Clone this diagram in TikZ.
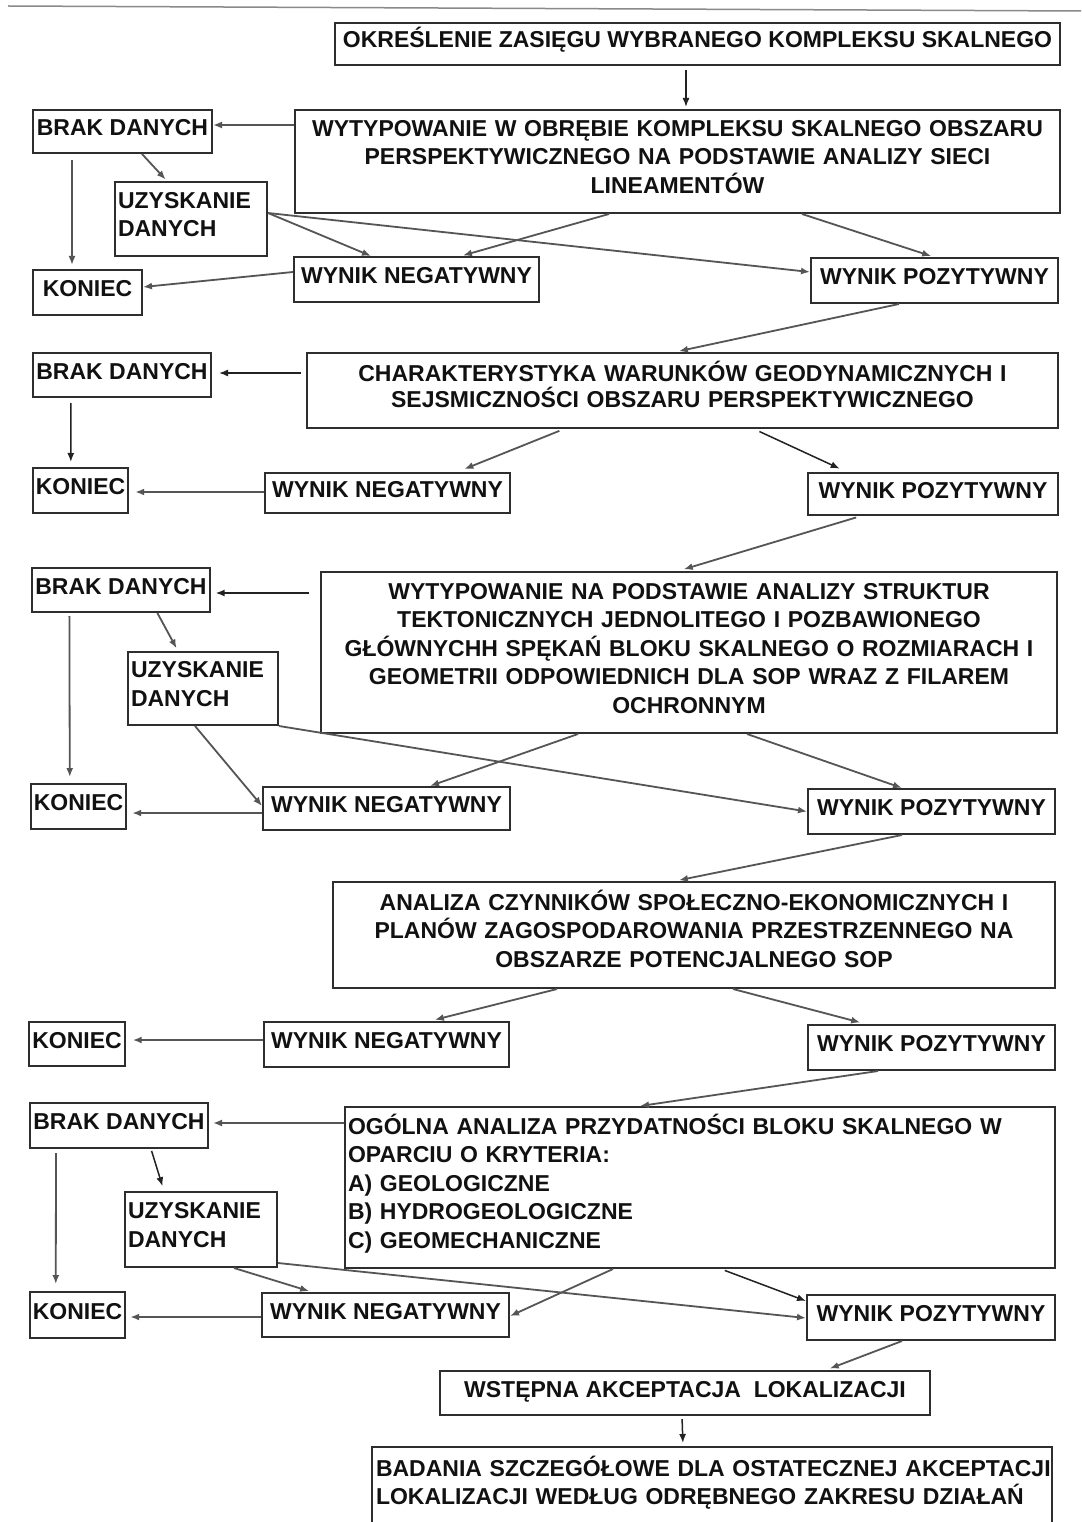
\documentclass[tikz,border=0pt]{standalone}
\usepackage{fontspec}
\setmainfont{Liberation Sans}
\usetikzlibrary{arrows.meta}
\definecolor{ink}{HTML}{111111}
\definecolor{frame}{HTML}{2E2E2E}
\definecolor{wire}{HTML}{555555}
\definecolor{wirek}{HTML}{222222}
\definecolor{rulegray}{HTML}{8A8A8A}
% struts that fix the vertical placement of the box texts
\newcommand\onestrut{\rule[-16pt]{0pt}{40pt}}
\newcommand\topstrut{\rule{0pt}{24pt}}
\newcommand\botstrut{\rule[-17pt]{0pt}{17pt}}

\begin{document}
\begin{tikzpicture}[x=1pt,y=-1pt,
  every node/.style={font=\fontsize{23}{28.5}\selectfont\bfseries, text=ink},
  box/.style={draw=frame, line width=2pt, inner xsep=3pt, inner ysep=0pt},
  cbox/.style={box, align=center},
  lbox/.style={box, align=left},
  arr/.style={draw=wire, line width=1.8pt, -{Latex[length=9pt,width=7pt]}},
  arrk/.style={arr, draw=wirek, line width=1.5pt},
]
\useasboundingbox (0,0) rectangle (1081,1522);
\fill[white] (0,0) rectangle (1081,1522);

% header rule
\draw[rulegray, line width=1.5pt] (8,6) -- (1081,11);

% ---------- stage 1 ----------
\node[box, minimum width=725pt, minimum height=42pt] (A) at (697.5,44)
  {OKREŚLENIE ZASIĘGU WYBRANEGO KOMPLEKSU SKALNEGO\onestrut};
\node[cbox, text width=759pt, minimum height=103pt] (B) at (677.5,161.5)
  {\topstrut WYTYPOWANIE W OBRĘBIE KOMPLEKSU SKALNEGO OBSZARU\\
   PERSPEKTYWICZNEGO NA PODSTAWIE ANALIZY SIECI\\
   LINEAMENTÓW\botstrut};
\node[box, minimum width=179pt, minimum height=43pt] (brakA) at (122.5,131.5) {BRAK DANYCH\onestrut};
\node[lbox, text width=146pt, minimum height=74pt] (uzA) at (191,219)
  {\topstrut UZYSKANIE\\ DANYCH\botstrut};
\node[box, minimum width=109pt, minimum height=45pt] (konA) at (87.5,292.5) {KONIEC\onestrut};
\node[box, minimum width=245pt, minimum height=45pt] (negA) at (416.5,279.5) {WYNIK NEGATYWNY\onestrut};
\node[box, minimum width=247pt, minimum height=45pt] (pozA) at (934.5,280.5) {WYNIK POZYTYWNY\onestrut};

% ---------- stage 2 ----------
\node[cbox, text width=745pt, minimum height=75pt, font=\fontsize{23}{26}\selectfont\bfseries] (C) at (682.5,390.5)
  {\topstrut CHARAKTERYSTYKA WARUNKÓW GEODYNAMICZNYCH I\\
   SEJSMICZNOŚCI OBSZARU PERSPEKTYWICZNEGO\botstrut};
\node[box, minimum width=178pt, minimum height=44pt] (brakB) at (122,375) {BRAK DANYCH\onestrut};
\node[box, minimum width=95pt, minimum height=45pt] (konB) at (80.5,490.5) {KONIEC\onestrut};
\node[box, minimum width=245pt, minimum height=40pt] (negB) at (387.5,493) {WYNIK NEGATYWNY\onestrut};
\node[box, minimum width=250pt, minimum height=42pt] (pozB) at (933,494) {WYNIK POZYTYWNY\onestrut};

% ---------- stage 3 ----------
\node[cbox, text width=730pt, minimum height=161pt] (D) at (689,652.5)
  {\topstrut WYTYPOWANIE NA PODSTAWIE ANALIZY STRUKTUR\\
   TEKTONICZNYCH JEDNOLITEGO I POZBAWIONEGO\\
   GŁÓWNYCHH SPĘKAŃ BLOKU SKALNEGO O ROZMIARACH I\\
   GEOMETRII ODPOWIEDNICH DLA SOP WRAZ Z FILAREM\\
   OCHRONNYM\botstrut};
\node[box, minimum width=176pt, minimum height=44pt] (brakC) at (121,590) {BRAK DANYCH\onestrut};
\node[lbox, text width=144pt, minimum height=73pt] (uzC) at (203,688.5)
  {\topstrut UZYSKANIE\\ DANYCH\botstrut};
\node[box, minimum width=95pt, minimum height=45pt] (konC) at (78.5,806.5) {KONIEC\onestrut};
\node[box, minimum width=247pt, minimum height=43pt] (negC) at (386.5,808.5) {WYNIK NEGATYWNY\onestrut};
\node[box, minimum width=247pt, minimum height=45pt] (pozC) at (931.5,811.5) {WYNIK POZYTYWNY\onestrut};

% ---------- stage 4 ----------
\node[cbox, text width=716pt, minimum height=106pt] (E) at (694,935)
  {\topstrut ANALIZA CZYNNIKÓW SPOŁECZNO-EKONOMICZNYCH I\\
   PLANÓW ZAGOSPODAROWANIA PRZESTRZENNEGO NA\\
   OBSZARZE POTENCJALNEGO SOP\botstrut};
\node[box, minimum width=94pt, minimum height=44pt] (konD) at (77,1044) {KONIEC\onestrut};
\node[box, minimum width=245pt, minimum height=45pt] (negD) at (386.5,1044.5) {WYNIK NEGATYWNY\onestrut};
\node[box, minimum width=247pt, minimum height=45pt] (pozD) at (931.5,1047.5) {WYNIK POZYTYWNY\onestrut};

% ---------- stage 5 ----------
\node[lbox, text width=704pt, minimum height=161pt] (F) at (700,1187.5)
  {\topstrut OGÓLNA ANALIZA PRZYDATNOŚCI BLOKU SKALNEGO W\\
   OPARCIU O KRYTERIA:\\
   A) GEOLOGICZNE\\
   B) HYDROGEOLOGICZNE\\
   C) GEOMECHANICZNE\botstrut};
\node[box, minimum width=178pt, minimum height=45pt] (brakE) at (119,1125.5) {BRAK DANYCH\onestrut};
\node[lbox, text width=146pt, minimum height=75pt] (uzE) at (201,1229.5)
  {\topstrut UZYSKANIE\\ DANYCH\botstrut};
\node[box, minimum width=95pt, minimum height=46pt] (konE) at (77.5,1315) {KONIEC\onestrut};
\node[box, minimum width=247pt, minimum height=44pt] (negE) at (385.5,1315) {WYNIK NEGATYWNY\onestrut};
\node[box, minimum width=248pt, minimum height=45pt] (pozE) at (931,1317.5) {WYNIK POZYTYWNY\onestrut};

% ---------- final stage ----------
\node[box, minimum width=490pt, minimum height=44pt] (G) at (685,1393)
  {WSTĘPNA AKCEPTACJA\ \ LOKALIZACJI\onestrut};
\node[box, draw=none, anchor=north west, align=left, text width=700pt, inner ysep=4pt] (H) at (372,1447)
  {\topstrut BADANIA SZCZEGÓŁOWE DLA OSTATECZNEJ AKCEPTACJI\\
   LOKALIZACJI WEDŁUG ODRĘBNEGO ZAKRESU DZIAŁAŃ};
\draw[draw=frame, line width=2pt]
  ([yshift=-110pt]H.north west) -- (H.north west) -- ([xshift=680pt]H.north west)
  -- ([xshift=680pt,yshift=-110pt]H.north west);

% ---------- connectors, stage 1 ----------
\draw[arrk, shorten <=4pt] ([xshift=352pt]A.south west) -- ([xshift=392pt,yshift=2pt]B.north west);
\draw[arr] ([yshift=36.5pt]B.west) -- ([yshift=6.5pt]brakA.east);
\draw[arr, shorten >=2pt] ([xshift=110pt]brakA.south west) -- ([xshift=53pt]uzA.north west);
\draw[arr, shorten <=6pt, shorten >=4pt] ([xshift=40pt]brakA.south west) -- ([xshift=40pt]konA.north west);
\draw[arr] ([yshift=6pt]uzA.east) -- ([xshift=78pt]negA.north west);
\draw[arr] ([yshift=6pt]uzA.east) -- ([yshift=8.5pt]pozA.west);
\draw[arr, shorten >=2pt] ([xshift=315pt]B.south west) -- ([xshift=168pt]negA.north west);
\draw[arr, shorten >=3pt] ([xshift=508pt]B.south west) -- ([xshift=124pt]pozA.north west);
\draw[arr] ([yshift=7.5pt]negA.west) -- ([yshift=5.5pt]konA.east);
\draw[arr, shorten >=4pt] ([xshift=89pt]pozA.south west) -- ([xshift=369pt]C.north west);

% ---------- connectors, stage 2 ----------
\draw[arrk, shorten <=5pt, shorten >=7pt] ([yshift=17.5pt]C.west) -- ([yshift=2pt]brakB.east);
\draw[arrk, shorten <=5pt, shorten >=5pt] ([xshift=39pt]brakB.south west) -- ([xshift=39pt]konB.north west);
\draw[arr, shorten >=6pt] ([yshift=1pt]negB.west) -- ([yshift=-1.5pt]konB.east);
\draw[arr, shorten <=5pt, shorten >=8pt] ([xshift=258pt]C.south west) -- ([xshift=193pt]negB.north west);
\draw[arrk, shorten <=6pt, shorten >=8pt] ([xshift=448pt]C.south west) -- ([xshift=40pt]pozB.north west);
\draw[arr, shorten <=5pt, shorten >=6pt] ([xshift=54pt]pozB.south west) -- ([xshift=358pt]D.north west);

% ---------- connectors, stage 3 ----------
\draw[arrk, shorten <=11pt, shorten >=5pt] ([yshift=59.5pt]D.west) -- ([yshift=-3pt]brakC.east);
\draw[arr, shorten >=3pt] ([xshift=126pt]brakC.south west) -- ([xshift=51pt]uzC.north west);
\draw[arr, shorten <=3pt, shorten >=6pt] ([xshift=38pt]brakC.south west) -- ([xshift=40pt]konC.north west);
\draw[arr] ([xshift=68pt]uzC.south west) -- ([yshift=2.5pt]negC.west);
\draw[arr] (uzC.south east) -- (pozC.west);
\draw[arr] ([xshift=258pt]D.south west) -- ([xshift=168pt]negC.north west);
\draw[arr] ([xshift=427pt]D.south west) -- ([xshift=95pt]pozC.north west);
\draw[arr, shorten >=5pt] ([yshift=-4.5pt]negC.west) -- ([yshift=-6.5pt]konC.east);
\draw[arr, shorten >=4pt] ([xshift=95pt]pozC.south west) -- ([xshift=343pt]E.north west);

% ---------- connectors, stage 4 ----------
\draw[arr, shorten >=5pt] ([xshift=225pt]E.south west) -- ([xshift=167pt]negD.north west);
\draw[arr, shorten >=6pt] ([xshift=401pt]E.south west) -- ([xshift=59pt]pozD.north west);
\draw[arr, shorten >=7pt] ([yshift=4.5pt]negD.west) -- ([yshift=4pt]konD.east);
\draw[arr] ([xshift=71pt]pozD.south west) -- ([xshift=296pt]F.north west);

% ---------- connectors, stage 5 ----------
\draw[arr, shorten >=4pt] ([yshift=64.5pt]F.west) -- ([yshift=2.5pt]brakE.east);
\draw[arrk, shorten <=2pt, shorten >=5pt] ([xshift=122pt]brakE.south west) -- ([xshift=40pt]uzE.north west);
\draw[arr, shorten <=4pt, shorten >=7pt] ([xshift=27pt]brakE.south west) -- ([xshift=27pt]konE.north west);
\draw[arr, shorten >=3pt] ([xshift=110pt]uzE.south west) -- ([xshift=51pt]negE.north west);
\draw[arr] ([yshift=-33.5pt]uzE.east) -- ([yshift=-0.5pt]pozE.west);
\draw[arr] ([xshift=269pt]F.south west) -- ([yshift=-1pt]negE.east);
\draw[arrk, shorten <=4pt] ([xshift=377pt]F.south west) -- ([yshift=16.5pt]pozE.west);
\draw[arr, shorten >=4pt] ([yshift=-2pt]negE.west) -- ([yshift=-2pt]konE.east);
\draw[arr, shorten >=4pt] ([xshift=96pt]pozE.south west) -- ([xshift=387pt]G.north west);
\draw[arrk, shorten <=3pt, shorten >=4pt] ([xshift=243pt]G.south west) -- ([xshift=311pt]H.north west);
\end{tikzpicture}
\end{document}
